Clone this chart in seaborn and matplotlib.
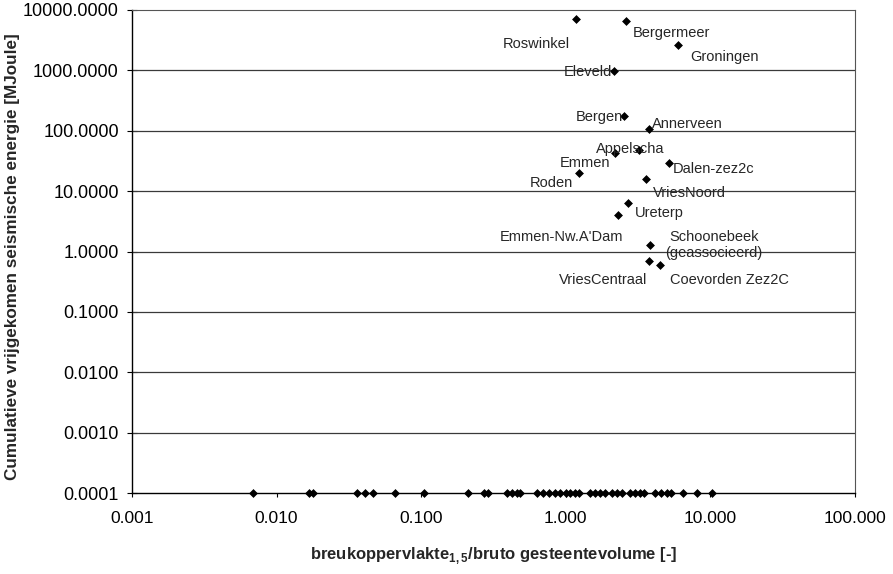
import numpy as np
import pandas as pd
import matplotlib
matplotlib.use("Agg")
import matplotlib.pyplot as plt
from matplotlib.ticker import FuncFormatter, LogLocator, NullLocator
import seaborn as sns

# labelled fields (x: breukoppervlakte^1.5 / bruto gesteentevolume, y: energie in MJoule)
fields = ["Roswinkel", "Bergermeer", "Groningen", "Eleveld", "Bergen", "Annerveen",
          "Emmen", "Appelscha", "Dalen-zez2c", "Roden", "VriesNoord", "Ureterp",
          "Emmen-Nw.A'Dam", "Schoonebeek\n(geassocieerd)", "VriesCentraal", "Coevorden Zez2C"]
field_x = [1.18, 2.61, 5.97, 2.15, 2.53, 3.76, 2.19, 3.21, 5.17, 1.23, 3.59, 2.69,
           2.30, 3.82, 3.76, 4.48]
field_y = [7100, 6570, 2630, 977, 176, 107, 42.9, 48.1, 29.3, 20.0, 15.9, 6.38,
           4.04, 1.29, 0.70, 0.60]

# fields without recorded seismicity, plotted at the lower axis limit
quiet_x = [0.00687, 0.0168, 0.0179, 0.0360, 0.0408, 0.0465, 0.0659, 0.104, 0.211,
           0.272, 0.290, 0.392, 0.425, 0.460, 0.482, 0.632, 0.695, 0.766, 0.841,
           0.912, 1.00, 1.07, 1.16, 1.23, 1.47, 1.59, 1.72, 1.87, 2.09, 2.26, 2.45,
           2.78, 3.01, 3.26, 3.47, 4.14, 4.55, 5.01, 5.34, 6.47, 8.07, 10.3]
quiet_y = [0.0001] * len(quiet_x)

# label offsets in pixels (dx, dy) and horizontal alignment
label_pos = {
    "Roswinkel": (-6, -25, "right"),
    "Bergermeer": (7, -12, "left"),
    "Groningen": (12, -12, "left"),
    "Eleveld": (-2, -1, "right"),
    "Bergen": (-1, -1, "right"),
    "Annerveen": (3, 5, "left"),
    "Emmen": (-5, -10, "right"),
    "Appelscha": (-9, 1, "center"),
    "Dalen-zez2c": (4, -6, "left"),
    "Roden": (-6, -10, "right"),
    "VriesNoord": (7, -14, "left"),
    "Ureterp": (7, -10, "left"),
    "Emmen-Nw.A'Dam": (5, -22, "right"),
    "Schoonebeek\n(geassocieerd)": (64, 0, "center"),
    "VriesCentraal": (-2, -19, "right"),
    "Coevorden Zez2C": (10, -15, "left"),
}

sns.set_theme(style="white")
plt.rcParams["font.family"] = ["Liberation Sans", "DejaVu Sans"]
plt.rcParams["mathtext.fontset"] = "custom"
plt.rcParams["mathtext.rm"] = "Liberation Sans"
plt.rcParams["mathtext.bf"] = "Liberation Sans:bold"

df = pd.DataFrame({"x": field_x + quiet_x, "y": field_y + quiet_y})

fig = plt.figure(figsize=(8.93, 5.74), dpi=100)
ax = fig.add_axes([132 / 893, 1 - 493 / 574, (855 - 132) / 893, (493 - 10) / 574])

ax.set_xscale("log")
ax.set_yscale("log")
ax.set_xlim(0.001, 100)
ax.set_ylim(0.0001, 10000)

# horizontal gridlines at every decade
for v in [0.001, 0.01, 0.1, 1, 10, 100, 1000]:
    ax.axhline(v, color="#3a3a3a", linewidth=0.9, zorder=1)

sns.scatterplot(data=df, x="x", y="y", marker="D", s=16, color="black",
                edgecolor="black", linewidth=0.5, ax=ax, zorder=3, clip_on=False)

for name, xv, yv in zip(fields, field_x, field_y):
    dx, dy, ha = label_pos[name]
    ax.annotate(name, (xv, yv), xytext=(dx, dy), textcoords="offset pixels",
                ha=ha, va="center", fontsize=10.5, multialignment="center", zorder=4)

ax.xaxis.set_major_locator(LogLocator(base=10, numticks=10))
ax.yaxis.set_major_locator(LogLocator(base=10, numticks=12))
ax.xaxis.set_minor_locator(NullLocator())
ax.yaxis.set_minor_locator(NullLocator())
ax.xaxis.set_major_formatter(FuncFormatter(lambda v, p: f"{v:.3f}"))
ax.yaxis.set_major_formatter(FuncFormatter(lambda v, p: f"{v:.4f}"))
ax.tick_params(axis="x", which="major", direction="out", length=3, width=0.8,
               pad=10, labelsize=12.5, colors="black", bottom=True)
ax.tick_params(axis="y", which="major", direction="inout", length=7, width=0.8,
               pad=6, labelsize=13, colors="black", left=True)

for side in ["left", "bottom"]:
    ax.spines[side].set_color("black")
    ax.spines[side].set_linewidth(1.0)
for side in ["top", "right"]:
    ax.spines[side].set_color("#555555")
    ax.spines[side].set_linewidth(0.8)
    ax.spines[side].set_linestyle((0, (1, 1)))

ax.set_xlabel(r"breukoppervlakte$_{\mathbf{1,5}}$/bruto gesteentevolume [-]",
              fontsize=12, fontweight="bold", labelpad=14)
ax.set_ylabel("Cumulatieve vrijgekomen seismische energie [MJoule]",
              fontsize=12.3, fontweight="bold")
ax.yaxis.set_label_coords(-0.155, 0.49)

fig.savefig("out.png", dpi=100, facecolor="white")
